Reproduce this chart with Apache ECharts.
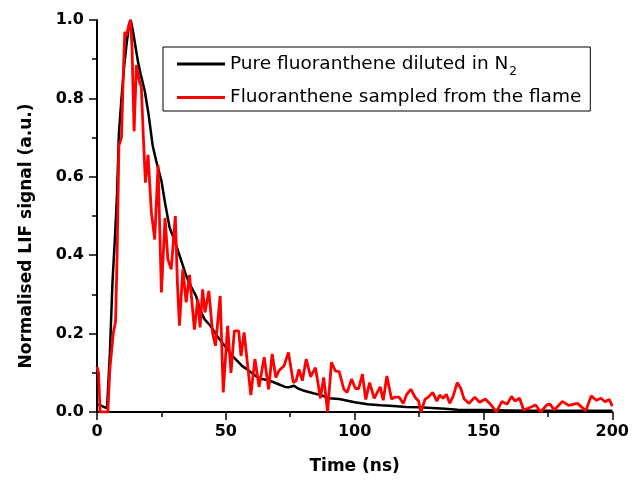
<!DOCTYPE html>
<html>
<head>
<meta charset="utf-8">
<script src="https://cdn.jsdelivr.net/npm/echarts@6/dist/echarts.min.js"></script>
<style>
  html, body { margin: 0; padding: 0; background: #fff; }
  #chart { width: 632px; height: 480px; }
</style>
</head>
<body>
<div id="chart"></div>
<script>
// Time axis ticks (ns) and normalised signal ticks
const xTicks = [0, 50, 100, 150, 200];
const yTicks = [0.0, 0.2, 0.4, 0.6, 0.8, 1.0];

// Pure fluoranthene diluted in N2
const pureTime = [0, 1, 2, 3, 3.9, 5, 6, 7, 7.8, 8.5, 9.5, 10.5, 11.5, 12.5, 13.1, 14, 15, 16, 17, 18.5,
  20, 21.6, 23, 25, 26.5, 28.2, 30, 32, 34.7, 36.5, 38.5, 40, 41.7, 44, 47.5, 50, 53, 56.4, 58, 60,
  62, 64, 67, 70, 73, 74.5, 76.5, 78, 80, 84, 87, 90, 94, 100, 105, 110, 115, 120, 125, 130,
  135, 140, 145, 150, 160, 170, 180, 190, 200];
const pureSignal = [0.02, 0.018, 0.015, 0.012, 0.01, 0.15, 0.33, 0.45, 0.56, 0.71, 0.80, 0.88, 0.94, 0.99, 1.0, 0.97, 0.93, 0.89, 0.86, 0.82,
  0.76, 0.68, 0.64, 0.59, 0.53, 0.47, 0.44, 0.40, 0.346, 0.32, 0.295, 0.26, 0.237, 0.22, 0.186, 0.165, 0.14, 0.117, 0.11, 0.10,
  0.09, 0.084, 0.08, 0.072, 0.064, 0.063, 0.067, 0.06, 0.055, 0.048, 0.043, 0.035, 0.033, 0.025, 0.02, 0.017, 0.015, 0.013, 0.012, 0.01,
  0.008, 0.006, 0.005, 0.005, 0.004, 0.003, 0.003, 0.003, 0.003];

// Fluoranthene sampled from the flame
const flameTime = [0, 0.6, 1.2, 2, 3, 4.2, 5, 6.3, 7.2, 7.8, 8.5, 9.5, 10.3, 10.8, 11.5, 12.1, 13, 13.6, 14.4, 15.3,
  16, 16.6, 17.2, 18, 18.8, 19.8, 21.1, 22.4, 23.7, 25, 26.4, 27.5, 28.8, 30.4, 31.2, 32, 33.3, 34.6, 35.9, 37.8,
  39.1, 40, 41, 41.9, 43.4, 44.9, 46, 47.8, 49, 50.7, 52, 53.3, 55, 55.9, 57.1, 59.7, 61.3, 62.9, 64.9, 66.6,
  68, 69.4, 70.6, 72.6, 74.3, 76.2, 77.3, 78.4, 79.7, 81.2, 82.9, 84.8, 86.7, 88, 89.5, 91, 92.5, 94, 95.8, 97.1,
  98.8, 100.3, 101.6, 103, 104.3, 105.8, 107.6, 109.9, 111.1, 112.5, 114.3, 115.7, 117.2, 118.9, 120.2, 121.8, 123.5, 124.8, 125.7, 127.3,
  128.6, 130.3, 131.9, 133, 134.3, 135.6, 136.9, 138.2, 139.8, 141.2, 142.5, 144.4, 146.6, 148.5, 150.7, 152.7, 155, 157.2, 159.2, 160.9,
  162.2, 164, 165.6, 167.6, 170.2, 172.2, 174.6, 175.8, 177.5, 180.6, 183, 186.5, 189.7, 191.8, 193.8, 195.6, 197.2, 198.8, 200];
const flameSignal = [0.115, 0.10, 0.0, 0.0, 0.0, 0.0, 0.11, 0.20, 0.23, 0.40, 0.68, 0.70, 0.88, 0.97, 0.96, 0.98, 1.0, 0.93, 0.716, 0.885,
  0.86, 0.84, 0.83, 0.70, 0.585, 0.656, 0.51, 0.44, 0.63, 0.305, 0.495, 0.39, 0.364, 0.50, 0.33, 0.22, 0.364, 0.28, 0.35, 0.21,
  0.288, 0.216, 0.313, 0.254, 0.309, 0.20, 0.169, 0.296, 0.05, 0.22, 0.10, 0.207, 0.207, 0.143, 0.203, 0.043, 0.135, 0.064, 0.14, 0.058,
  0.148, 0.088, 0.105, 0.118, 0.152, 0.075, 0.08, 0.109, 0.08, 0.135, 0.09, 0.113, 0.035, 0.088, 0.0, 0.127, 0.105, 0.103, 0.058, 0.05,
  0.084, 0.06, 0.06, 0.097, 0.032, 0.075, 0.035, 0.064, 0.03, 0.092, 0.033, 0.038, 0.038, 0.022, 0.045, 0.058, 0.037, 0.028, 0.0, 0.032,
  0.038, 0.05, 0.028, 0.043, 0.035, 0.045, 0.022, 0.04, 0.075, 0.06, 0.033, 0.022, 0.038, 0.025, 0.033, 0.02, 0.0, 0.027, 0.02, 0.04,
  0.028, 0.035, 0.005, 0.01, 0.018, 0.0, 0.018, 0.02, 0.005, 0.027, 0.017, 0.022, 0.003, 0.041, 0.03, 0.035, 0.026, 0.032, 0.015];

const pairs = (t, v) => t.map((x, i) => [x, v[i]]);
const FONT = '"DejaVu Sans", "Liberation Sans", Arial, sans-serif';
const NAME_PURE = 'Pure fluoranthene diluted in N2';
const NAME_FLAME = 'Fluoranthene sampled from the flame';

const chart = echarts.init(document.getElementById('chart'), null, { renderer: 'canvas' });
chart.setOption({
  animation: false,
  backgroundColor: '#ffffff',
  grid: { left: 97, right: 16, top: 20, bottom: 67, containLabel: false },
  legend: {
    left: 163, top: 47,
    orient: 'vertical',
    data: [NAME_PURE, NAME_FLAME],
    icon: 'rect',
    itemWidth: 48, itemHeight: 3, itemGap: 10,
    padding: [3, 9, 4, 14],
    borderColor: '#000', borderWidth: 1,
    formatter: n => n === NAME_PURE ? '{a|Pure fluoranthene diluted in N}{s|2}' : '{a|' + n + '}',
    textStyle: {
      fontFamily: FONT, fontSize: 18.5, color: '#000',
      rich: {
        a: { fontFamily: FONT, fontSize: 18.5, color: '#000', lineHeight: 26 },
        s: { fontFamily: FONT, fontSize: 12, color: '#000', lineHeight: 12, padding: [16, 0, 0, 1] }
      }
    }
  },
  xAxis: {
    type: 'value', min: 0, max: 200, interval: 50,
    name: 'Time (ns)', nameLocation: 'middle', nameGap: 46,
    nameTextStyle: { fontFamily: FONT, fontSize: 17, fontWeight: 'bold', color: '#000' },
    axisLine: { show: true, onZero: false, lineStyle: { color: '#000', width: 2 } },
    axisTick: { show: true, length: 8, lineStyle: { color: '#000', width: 1.5 } },
    minorTick: { show: true, splitNumber: 2, length: 5, lineStyle: { color: '#000', width: 1.5 } },
    axisLabel: { margin: 12, fontFamily: FONT, fontSize: 16, fontWeight: 'bold', color: '#000',
      customValues: xTicks, formatter: v => String(v) },
    splitLine: { show: false }
  },
  yAxis: {
    type: 'value', min: 0, max: 1, interval: 0.2,
    name: 'Normalised LIF signal (a.u.)', nameLocation: 'middle', nameGap: 62, nameRotate: 90,
    nameTextStyle: { fontFamily: FONT, fontSize: 17, fontWeight: 'bold', color: '#000', padding: [0, 40, 0, 0] },
    axisLine: { show: true, onZero: false, lineStyle: { color: '#000', width: 2 } },
    axisTick: { show: true, length: 8, lineStyle: { color: '#000', width: 1.5 } },
    minorTick: { show: true, splitNumber: 2, length: 5, lineStyle: { color: '#000', width: 1.5 } },
    axisLabel: { margin: 13, fontFamily: FONT, fontSize: 16, fontWeight: 'bold', color: '#000',
      customValues: yTicks, formatter: v => v.toFixed(1) },
    splitLine: { show: false }
  },
  series: [
    {
      name: NAME_PURE, type: 'line', data: pairs(pureTime, pureSignal),
      symbol: 'none', showSymbol: false, clip: true,
      lineStyle: { color: '#000', width: 2.5 }, itemStyle: { color: '#000' }
    },
    {
      name: NAME_FLAME, type: 'line', data: pairs(flameTime, flameSignal),
      symbol: 'none', showSymbol: false, clip: true,
      lineStyle: { color: '#ff0000', width: 2.8 }, itemStyle: { color: '#ff0000' }
    }
  ]
});
</script>
</body>
</html>
